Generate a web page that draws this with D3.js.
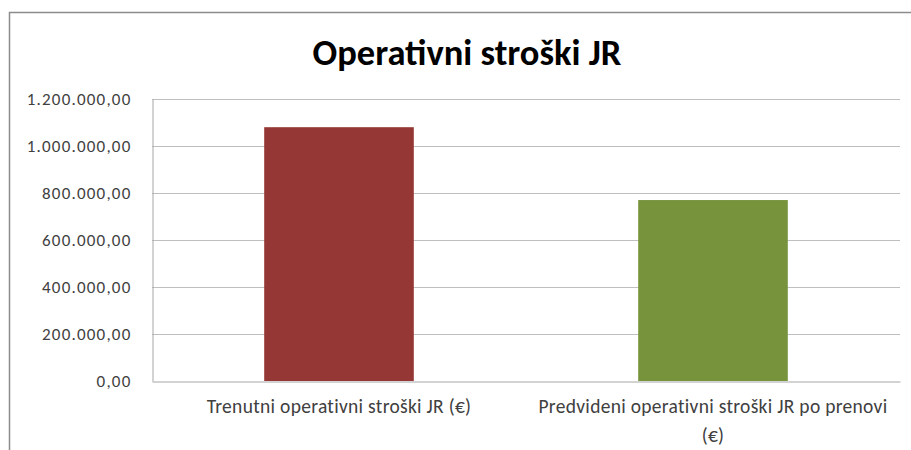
<!DOCTYPE html>
<html>
<head>
<meta charset="utf-8">
<script src="https://cdn.jsdelivr.net/npm/d3@7/dist/d3.min.js"></script>
<style>
  html, body { margin: 0; padding: 0; background: #fff; }
  svg { display: block; }
  text { font-family: Carlito, Lato, "Open Sans", sans-serif; }
</style>
</head>
<body>
<svg id="chart" width="911" height="450"></svg>
<script>
const title = "Operativni stroški JR";
const categories = ["Trenutni operativni stroški JR (€)", "Predvideni operativni stroški JR po prenovi (€)"];
const values = [1080000, 770000];
const barColors = ["#953735", "#77933c"];
const yTicks = [0, 200000, 400000, 600000, 800000, 1000000, 1200000];

const svg = d3.select("#chart");
const W = 911, H = 450;
const margin = { left: 152, right: 11, top: 99, bottom: 69 };

// chart frame
svg.append("rect")
  .attr("x", 9.5).attr("y", 12.5)
  .attr("width", W + 20).attr("height", H + 20)
  .attr("fill", "#fff").attr("stroke", "#8c8c8c").attr("stroke-width", 1.5);

const x = d3.scaleBand()
  .domain(categories)
  .range([margin.left, W - margin.right])
  .paddingInner(0.6).paddingOuter(0.3);

const y = d3.scaleLinear()
  .domain([0, 1200000])
  .range([H - margin.bottom, margin.top]);

const fmt = v => {
  const s = d3.format(",.2f")(v);
  return s.replace(/,/g, "#").replace(/\./g, ",").replace(/#/g, ".");
};

// gridlines
svg.append("g")
  .selectAll("line")
  .data(yTicks.filter(d => d > 0))
  .join("line")
  .attr("x1", margin.left).attr("x2", W - margin.right)
  .attr("y1", d => Math.round(y(d)) + 0.5).attr("y2", d => Math.round(y(d)) + 0.5)
  .attr("stroke", "#bfbfbf").attr("stroke-width", 1);

// y axis
const yAxis = svg.append("g")
  .attr("transform", `translate(${margin.left + 0.5},0)`)
  .call(d3.axisLeft(y).tickValues(yTicks).tickSize(0).tickPadding(21).tickFormat(fmt));
yAxis.select(".domain").attr("stroke", "#a6a6a6");
yAxis.selectAll("text")
  .attr("font-size", 17).attr("fill", "#404040")
  .attr("letter-spacing", "1.2px")
  .style("font-family", "Carlito, Lato, 'Open Sans', sans-serif");

// bars
svg.append("g")
  .selectAll("rect")
  .data(values)
  .join("rect")
  .attr("x", (d, i) => x(categories[i]))
  .attr("y", d => y(d))
  .attr("width", x.bandwidth())
  .attr("height", d => y(0) - y(d))
  .attr("fill", (d, i) => barColors[i]);

// x axis
const xAxis = svg.append("g")
  .attr("transform", `translate(0,${Math.round(y(0)) + 0.5})`)
  .call(d3.axisBottom(x).tickSize(0).tickPadding(18));
xAxis.select(".domain").attr("stroke", "#a6a6a6");
xAxis.selectAll("text")
  .attr("font-size", 19.5).attr("fill", "#404040")
  .attr("letter-spacing", "0.3px")
  .style("font-family", "Carlito, Lato, 'Open Sans', sans-serif")
  .call(wrap, 362);

function wrap(sel, width) {
  sel.each(function() {
    const t = d3.select(this);
    const words = t.text().split(/\s+/);
    const yy = t.attr("y"), dy = parseFloat(t.attr("dy"));
    t.text(null);
    let line = [];
    let ln = 0;
    let ts = t.append("tspan").attr("x", 0).attr("y", yy).attr("dy", dy + "em");
    for (const w of words) {
      line.push(w);
      ts.text(line.join(" "));
      if (ts.node().getComputedTextLength() > width && line.length > 1) {
        line.pop();
        ts.text(line.join(" "));
        line = [w];
        ln++;
        ts = t.append("tspan").attr("x", 0).attr("y", yy)
          .attr("dy", (dy + ln * 1.45) + "em").text(w);
      }
    }
  });
}

// title
svg.append("text")
  .attr("x", 467).attr("y", 65)
  .attr("text-anchor", "middle")
  .attr("font-size", 36.5).attr("font-weight", "bold")
  .attr("fill", "#000")
  .text(title);
</script>
</body>
</html>
